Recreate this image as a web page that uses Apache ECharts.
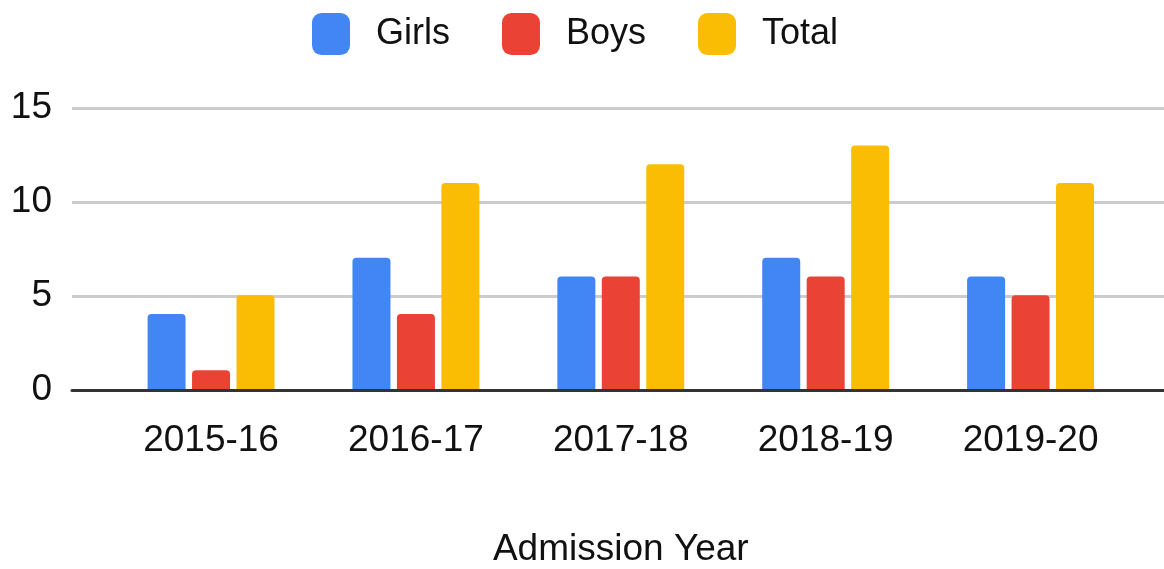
<!DOCTYPE html>
<html>
<head>
<meta charset="utf-8">
<script src="https://cdn.jsdelivr.net/npm/echarts@6/dist/echarts.min.js"></script>
<style>
html,body{margin:0;padding:0;background:#fff;}
#chart{width:1164px;height:569px;}
</style>
</head>
<body>
<div id="chart"></div>
<script>
const categories = ['2015-16', '2016-17', '2017-18', '2018-19', '2019-20'];
const girls = [4, 7, 6, 7, 6];
const boys = [1, 4, 6, 6, 5];
const total = [5, 11, 12, 13, 11];
const seriesNames = ['Girls', 'Boys', 'Total'];
const colors = ['#4285F4', '#EA4335', '#FBBC04'];
const xAxisTitle = 'Admission Year';

const FONT = '"Liberation Sans", Arial, sans-serif';
const TXT = '#111';
const chart = echarts.init(document.getElementById('chart'), null, {renderer: 'canvas'});

const barSeries = [girls, boys, total].map((d, i) => ({
  name: seriesNames[i],
  type: 'bar',
  xAxisIndex: 0,
  yAxisIndex: 0,
  data: d,
  barWidth: 38,
  barGap: '17%',
  itemStyle: {color: colors[i], borderRadius: [4, 4, 0, 0]},
  z: 3
}));

chart.setOption({
  animation: false,
  textStyle: {fontFamily: FONT},
  legend: {
    data: seriesNames,
    top: 13,
    left: 312,
    padding: 0,
    itemWidth: 38,
    itemHeight: 42,
    itemGap: 52,
    icon: 'roundRect',
    textStyle: {fontSize: 36, color: TXT, fontFamily: FONT, padding: [0, 0, 2, 21]}
  },
  grid: [
    {left: 108.6, right: 31, top: 108, bottom: 179},
    {left: 72, right: 0, top: 108, bottom: 179}
  ],
  xAxis: [
    {
      type: 'category', gridIndex: 0, data: categories,
      axisLine: {show: false}, axisTick: {show: false},
      axisLabel: {fontSize: 37, color: TXT, margin: 33, fontFamily: FONT},
      name: xAxisTitle, nameLocation: 'middle', nameGap: 142,
      nameTextStyle: {fontSize: 37, color: TXT, fontFamily: FONT}
    },
    {
      type: 'value', gridIndex: 1, min: 0, max: 1,
      axisLine: {show: true, onZero: false, lineStyle: {color: '#333', width: 3}},
      axisTick: {show: false}, axisLabel: {show: false}, splitLine: {show: false}
    }
  ],
  yAxis: [
    {
      type: 'value', gridIndex: 0, min: 0, max: 15, interval: 5,
      axisLine: {show: false}, axisTick: {show: false}, axisLabel: {show: false}, splitLine: {show: false}
    },
    {
      type: 'value', gridIndex: 1, min: 0, max: 15, interval: 5,
      axisLine: {show: false}, axisTick: {show: false},
      axisLabel: {fontSize: 37, color: TXT, margin: 20, fontFamily: FONT, padding: [4, 0, 0, 0]},
      splitLine: {show: true, lineStyle: {color: '#cccccc', width: 3}}
    }
  ],
  series: barSeries
});
</script>
</body>
</html>
